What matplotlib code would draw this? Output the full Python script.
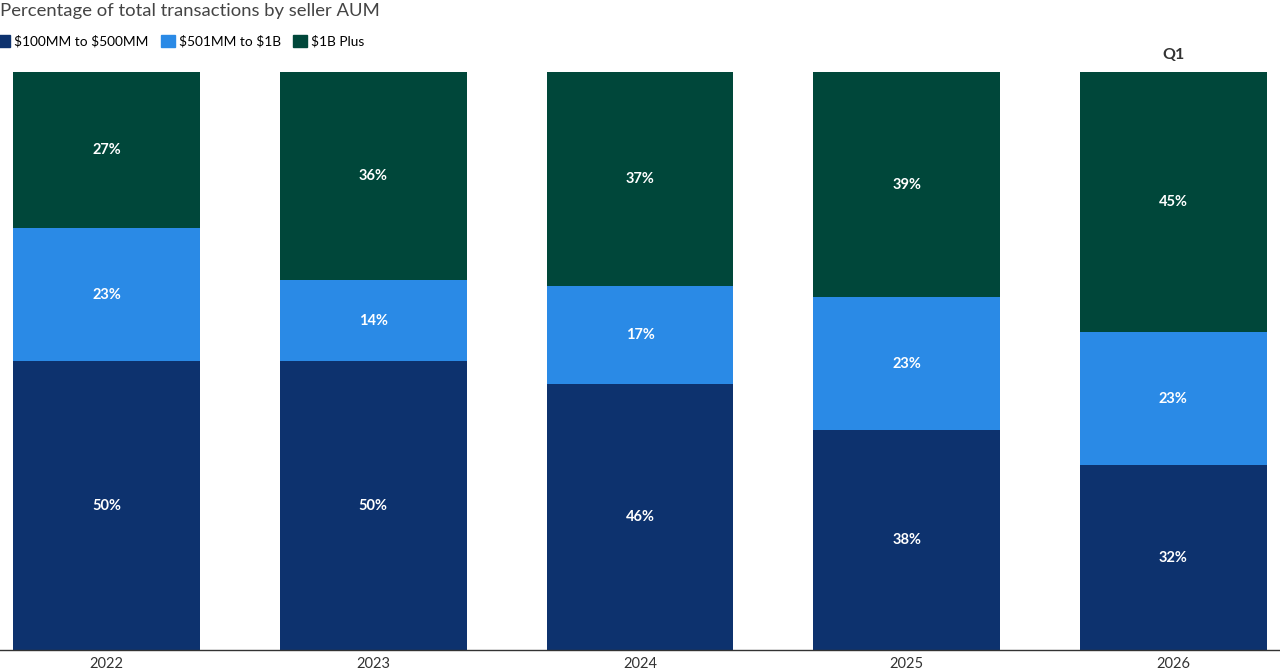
import numpy as np
import matplotlib.pyplot as plt
from matplotlib.patches import Patch

plt.rcParams['font.family'] = ['Lato', 'DejaVu Sans']
plt.rcParams['text.parse_math'] = False

years = ["2022", "2023", "2024", "2025", "2026"]
small = [50, 50, 46, 38, 32]     # $100MM to $500MM
mid = [23, 14, 17, 23, 23]       # $501MM to $1B
large = [27, 36, 37, 39, 45]     # $1B Plus
series_names = ["$100MM to $500MM", "$501MM to $1B", "$1B Plus"]
colors = ["#0d326e", "#2a8ae6", "#00473a"]

fig = plt.figure(figsize=(12.8, 6.7), dpi=100)
ax = fig.add_axes([0, 20/670, 1, 578/670])

x = np.arange(len(years))
bottom = np.zeros(len(years))
for vals, col in zip([small, mid, large], colors):
    vals = np.array(vals, dtype=float)
    ax.bar(x, vals, 0.7, bottom=bottom, color=col)
    for xi, b, v in zip(x, bottom, vals):
        ax.text(xi, b + v/2, f"{int(v)}%", ha='center', va='center',
                color='white', fontsize=10.5, fontweight='bold')
    bottom += vals

ax.set_xlim(-0.4, len(years) - 0.6)
ax.set_ylim(0, 100)
ax.set_xticks(x)
ax.set_xticklabels(years, fontsize=10.5, color='#333333')
ax.tick_params(axis='x', length=0, pad=5)
ax.set_yticks([])
for s in ['top', 'right', 'left']:
    ax.spines[s].set_visible(False)
ax.spines['bottom'].set_color('#333333')
ax.spines['bottom'].set_linewidth(1)

ax.text(len(years) - 1, 101.8, "Q1", ha='center', va='bottom', fontsize=11.5,
        fontweight='bold', color='#333333')

fig.text(0.0, 1 - 11/670, "Percentage of total transactions by seller AUM",
         ha='left', va='center', fontsize=13.3, color='#444444')

handles = [Patch(color=c) for c in colors]
fig.legend(handles, series_names, loc='center left', bbox_to_anchor=(-0.003, 1 - 41/670),
           ncol=3, frameon=False, fontsize=9.9, handlelength=1.0, handleheight=1.0,
           handletextpad=0.3, columnspacing=0.9, borderpad=0, borderaxespad=0)

fig.savefig("out.png", dpi=100)
